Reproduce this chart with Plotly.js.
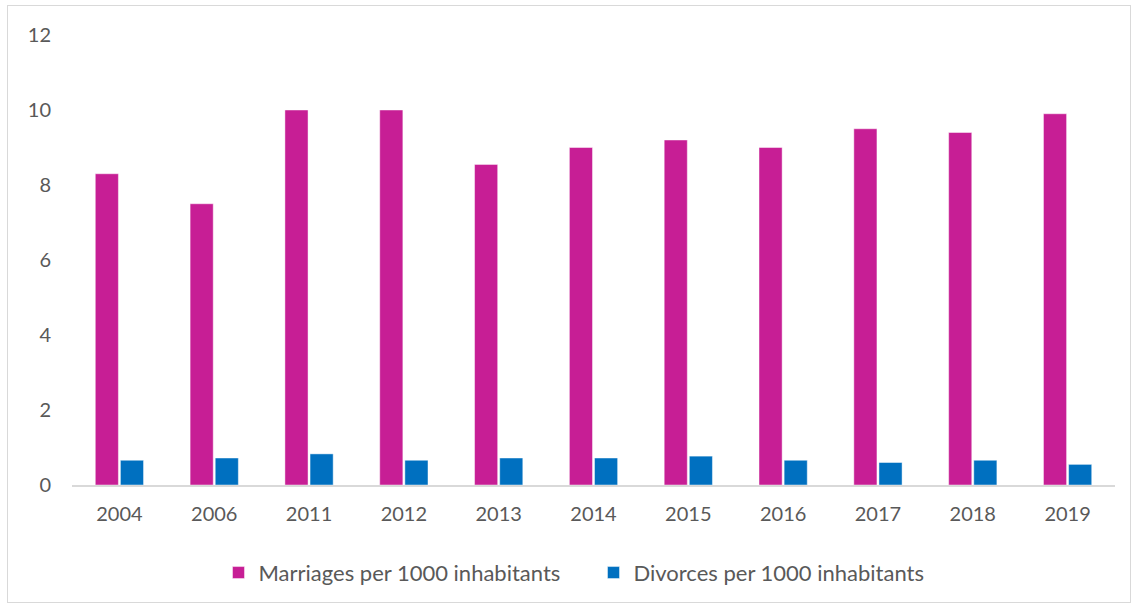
<!DOCTYPE html>
<html>
<head>
<meta charset="utf-8">
<script src="https://cdn.plot.ly/plotly-3.0.1.min.js"></script>
<style>
  html, body { margin: 0; padding: 0; background: #fff; }
  #wrap { position: relative; width: 1136px; height: 609px; }
  #chart { width: 1136px; height: 609px; }
  #frame { position: absolute; left: 7px; top: 5px; width: 1124px; height: 598px;
           border: 1px solid #D9D9D9; pointer-events: none; box-sizing: border-box; }
</style>
</head>
<body>
<div id="wrap">
  <div id="chart"></div>
  <div id="frame"></div>
</div>
<script>
const years = ["2004", "2006", "2011", "2012", "2013", "2014", "2015", "2016", "2017", "2018", "2019"];
const marriages = [8.3, 7.5, 10.0, 10.0, 8.55, 9.0, 9.2, 9.0, 9.5, 9.4, 9.9];
const divorces = [0.66, 0.72, 0.83, 0.66, 0.72, 0.72, 0.77, 0.66, 0.6, 0.66, 0.55];
const seriesNames = ["Marriages per 1000 inhabitants", "Divorces per 1000 inhabitants"];
const yTicks = [0, 2, 4, 6, 8, 10, 12];

const fontFamily = "Lato, 'Open Sans', sans-serif";
const textColor = "#595959";

const traces = [
  {
    type: "bar", name: seriesNames[0], x: years, y: marriages,
    marker: { color: "#C71E95", line: { color: "rgba(255,255,255,0.45)", width: 1 } },
    hoverinfo: "x+y"
  },
  {
    type: "bar", name: seriesNames[1], x: years, y: divorces,
    marker: { color: "#0070C0", line: { color: "rgba(255,255,255,0.45)", width: 1 } },
    hoverinfo: "x+y"
  }
];

const layout = {
  width: 1136, height: 609,
  margin: { l: 72, r: 21, t: 35, b: 124 },
  paper_bgcolor: "#fff", plot_bgcolor: "#fff",
  barmode: "group", bargap: 0.47, bargroupgap: 0.08,
  font: { family: fontFamily, size: 20, color: textColor },
  showlegend: true,
  legend: {
    orientation: "h", x: 0.5, xanchor: "center", y: -0.195, yanchor: "middle",
    entrywidth: 330, entrywidthmode: "pixels",
    font: { family: fontFamily, size: 22, color: textColor }
  },
  xaxis: {
    type: "category", showgrid: false, zeroline: false,
    showline: true, linecolor: "#D9D9D9", linewidth: 2,
    ticks: "", ticklabelstandoff: 10,
    tickfont: { family: fontFamily, size: 20, color: textColor }
  },
  yaxis: {
    range: [0, 12], tickvals: yTicks, ticktext: yTicks.map(String),
    showgrid: false, zeroline: false, showline: false, ticks: "",
    ticklabelstandoff: 20,
    tickfont: { family: fontFamily, size: 20, color: textColor }
  }
};

Plotly.newPlot("chart", traces, layout, { displayModeBar: false, staticPlot: true });
</script>
</body>
</html>
